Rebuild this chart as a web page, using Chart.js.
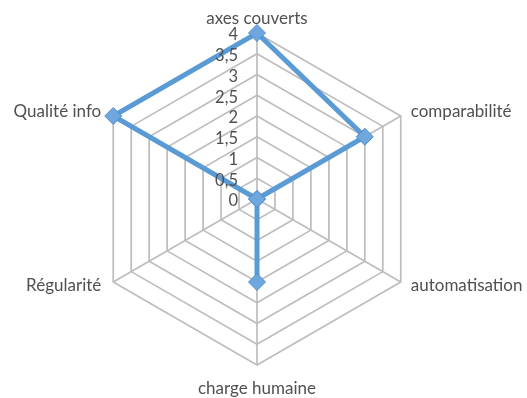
<!DOCTYPE html>
<html>
<head>
<meta charset="utf-8">
<script src="https://cdn.jsdelivr.net/npm/chart.js@4"></script>
<style>
  html, body { margin: 0; padding: 0; background: #fff; }
  #wrap { width: 527px; height: 398px; }
</style>
</head>
<body>
<div id="wrap"><canvas id="radarChart" width="527" height="398"></canvas></div>
<script>
const categories = ['axes couverts', 'comparabilité', 'automatisation', 'charge humaine', 'Régularité', 'Qualité info'];
const scores = [4, 3, 0, 2, 0, 4];
const tickValues = [0, 0.5, 1, 1.5, 2, 2.5, 3, 3.5, 4];
const tickLabels = ['0', '0,5', '1', '1,5', '2', '2,5', '3', '3,5', '4'];

const textColor = '#505050';
const gridColor = '#bdbdbd';
const lineBlue = '#5b9bd5';

// draws axis names and tick numbers the way the original sheet does
const labelPlugin = {
    id: 'labelPlugin',
    afterDraw(chart) {
        const scale = chart.scales.r;
        const ctx = chart.ctx;
        ctx.save();
        ctx.fillStyle = textColor;

        // tick labels, right aligned left of the vertical axis
        ctx.font = '16.5px Lato, "Open Sans", sans-serif';
        ctx.textAlign = 'right';
        ctx.textBaseline = 'middle';
        tickValues.forEach((v, i) => {
            const d = scale.getDistanceFromCenterForValue(v);
            ctx.fillText(tickLabels[i], scale.xCenter - 19, scale.yCenter - d + 2);
        });

        // point labels
        ctx.font = '17px Lato, "Open Sans", sans-serif';
        categories.forEach((label, i) => {
            const p = scale.getPointPosition(i, scale.drawingArea);
            let x = p.x, y = p.y;
            if (Math.abs(p.x - scale.xCenter) < 2) {
                ctx.textAlign = 'center';
                if (p.y < scale.yCenter) {
                    ctx.textBaseline = 'bottom';
                    y -= 6;
                } else {
                    ctx.textBaseline = 'top';
                    y += 15;
                }
            } else {
                ctx.textAlign = p.x > scale.xCenter ? 'left' : 'right';
                ctx.textBaseline = 'middle';
                x += p.x > scale.xCenter ? 10 : -12;
                y += p.y < scale.yCenter ? -4 : 4;
            }
            ctx.fillText(label, x, y);
        });
        ctx.restore();
    }
};

const ctx1 = document.getElementById('radarChart').getContext('2d');
const radarChart = new Chart(ctx1, {
    type: 'radar',
    data: {
        labels: categories,
        datasets: [{
            data: scores,
            borderColor: lineBlue,
            backgroundColor: 'rgba(0,0,0,0)',
            borderWidth: 5,
            fill: false,
            pointStyle: 'rectRot',
            pointRadius: 8.5,
            pointBackgroundColor: '#6ea6dd',
            pointBorderColor: '#4f8fcf',
            pointBorderWidth: 1
        }]
    },
    options: {
        responsive: false,
        animation: false,
        layout: {
            padding: { top: 33, bottom: 33, left: 91, right: 104 }
        },
        plugins: {
            legend: { display: false },
            tooltip: { enabled: false }
        },
        scales: {
            r: {
                min: 0,
                max: 4,
                beginAtZero: true,
                ticks: { display: false, stepSize: 0.5 },
                pointLabels: { display: false },
                grid: { color: gridColor, lineWidth: 1.7 },
                angleLines: { color: gridColor, lineWidth: 1.7 }
            }
        }
    },
    plugins: [labelPlugin]
});
</script>
</body>
</html>
